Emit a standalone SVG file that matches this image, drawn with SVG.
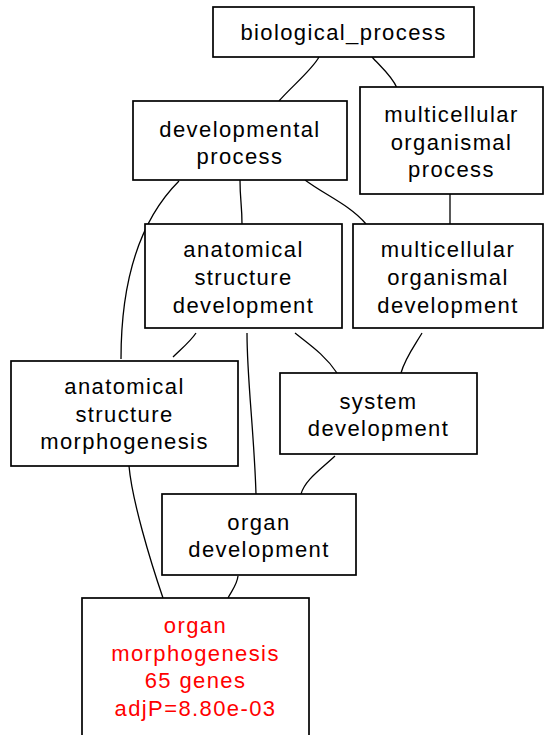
<svg xmlns="http://www.w3.org/2000/svg" width="545" height="735" viewBox="0 0 545 735">
<style>
.box{fill:#ffffff;stroke:#000000;stroke-width:1.7}
.edge{fill:none;stroke:#000000;stroke-width:1.3}
text{font-family:"Liberation Sans",Arial,sans-serif;font-size:22px;letter-spacing:1.4px;text-anchor:middle;fill:#000000}
.hit text{fill:#ff0000}
</style>
<rect x="0" y="0" width="545" height="735" fill="#ffffff"/>
<g id="edges">
<path class="edge" d="M319,57 C312,70 290,88 279,101"/>
<path class="edge" d="M372,57 C380,66 392,76 397,88"/>
<path class="edge" d="M179,181 C140,220 121,280 121,359"/>
<path class="edge" d="M240,180 C240,200 242,205 242,224"/>
<path class="edge" d="M305,180 C325,195 350,205 366,224"/>
<path class="edge" d="M450,194 L450,224"/>
<path class="edge" d="M196,333 C190,342 180,350 173,357"/>
<path class="edge" d="M247,333 C247,380 254,430 256,494"/>
<path class="edge" d="M295,333 C310,345 325,355 337,373"/>
<path class="edge" d="M422,333 C415,345 405,358 401,373"/>
<path class="edge" d="M335,456 C320,470 305,480 301,494"/>
<path class="edge" d="M129,466 C132,500 150,560 163,598"/>
<path class="edge" d="M238,576 C237,585 232,590 228,598"/>
</g>
<g id="biological_process">
<rect class="box" x="213" y="7" width="261" height="50"/>
<text x="343.5" y="40">biological_process</text>
</g>
<g id="developmental_process">
<rect class="box" x="133" y="101" width="214" height="79"/>
<text x="240" y="136.6">developmental</text>
<text x="240" y="164.3">process</text>
</g>
<g id="multicellular_organismal_process">
<rect class="box" x="360" y="87" width="183" height="107"/>
<text x="451.5" y="121.8">multicellular</text>
<text x="451.5" y="149.5">organismal</text>
<text x="451.5" y="177.2">process</text>
</g>
<g id="anatomical_structure_development">
<rect class="box" x="145" y="224" width="197" height="104"/>
<text x="243.5" y="257.3">anatomical</text>
<text x="243.5" y="285">structure</text>
<text x="243.5" y="312.7">development</text>
</g>
<g id="multicellular_organismal_development">
<rect class="box" x="353" y="224" width="190" height="104"/>
<text x="448" y="257.3">multicellular</text>
<text x="448" y="285">organismal</text>
<text x="448" y="312.7">development</text>
</g>
<g id="anatomical_structure_morphogenesis">
<rect class="box" x="11" y="361" width="227" height="105"/>
<text x="124.5" y="393.8">anatomical</text>
<text x="124.5" y="421.5">structure</text>
<text x="124.5" y="449.2">morphogenesis</text>
</g>
<g id="system_development">
<rect class="box" x="280" y="373" width="197" height="81"/>
<text x="378.5" y="408.8">system</text>
<text x="378.5" y="436">development</text>
</g>
<g id="organ_development">
<rect class="box" x="162" y="494" width="194" height="81"/>
<text x="259" y="529.8">organ</text>
<text x="259" y="557">development</text>
</g>
<g id="organ_morphogenesis" class="hit">
<rect class="box" x="82" y="598" width="227" height="140"/>
<text x="195.5" y="633">organ</text>
<text x="195.5" y="660.7">morphogenesis</text>
<text x="195.5" y="688.4">65 genes</text>
<text x="195.5" y="716.1">adjP=8.80e-03</text>
</g>
</svg>
